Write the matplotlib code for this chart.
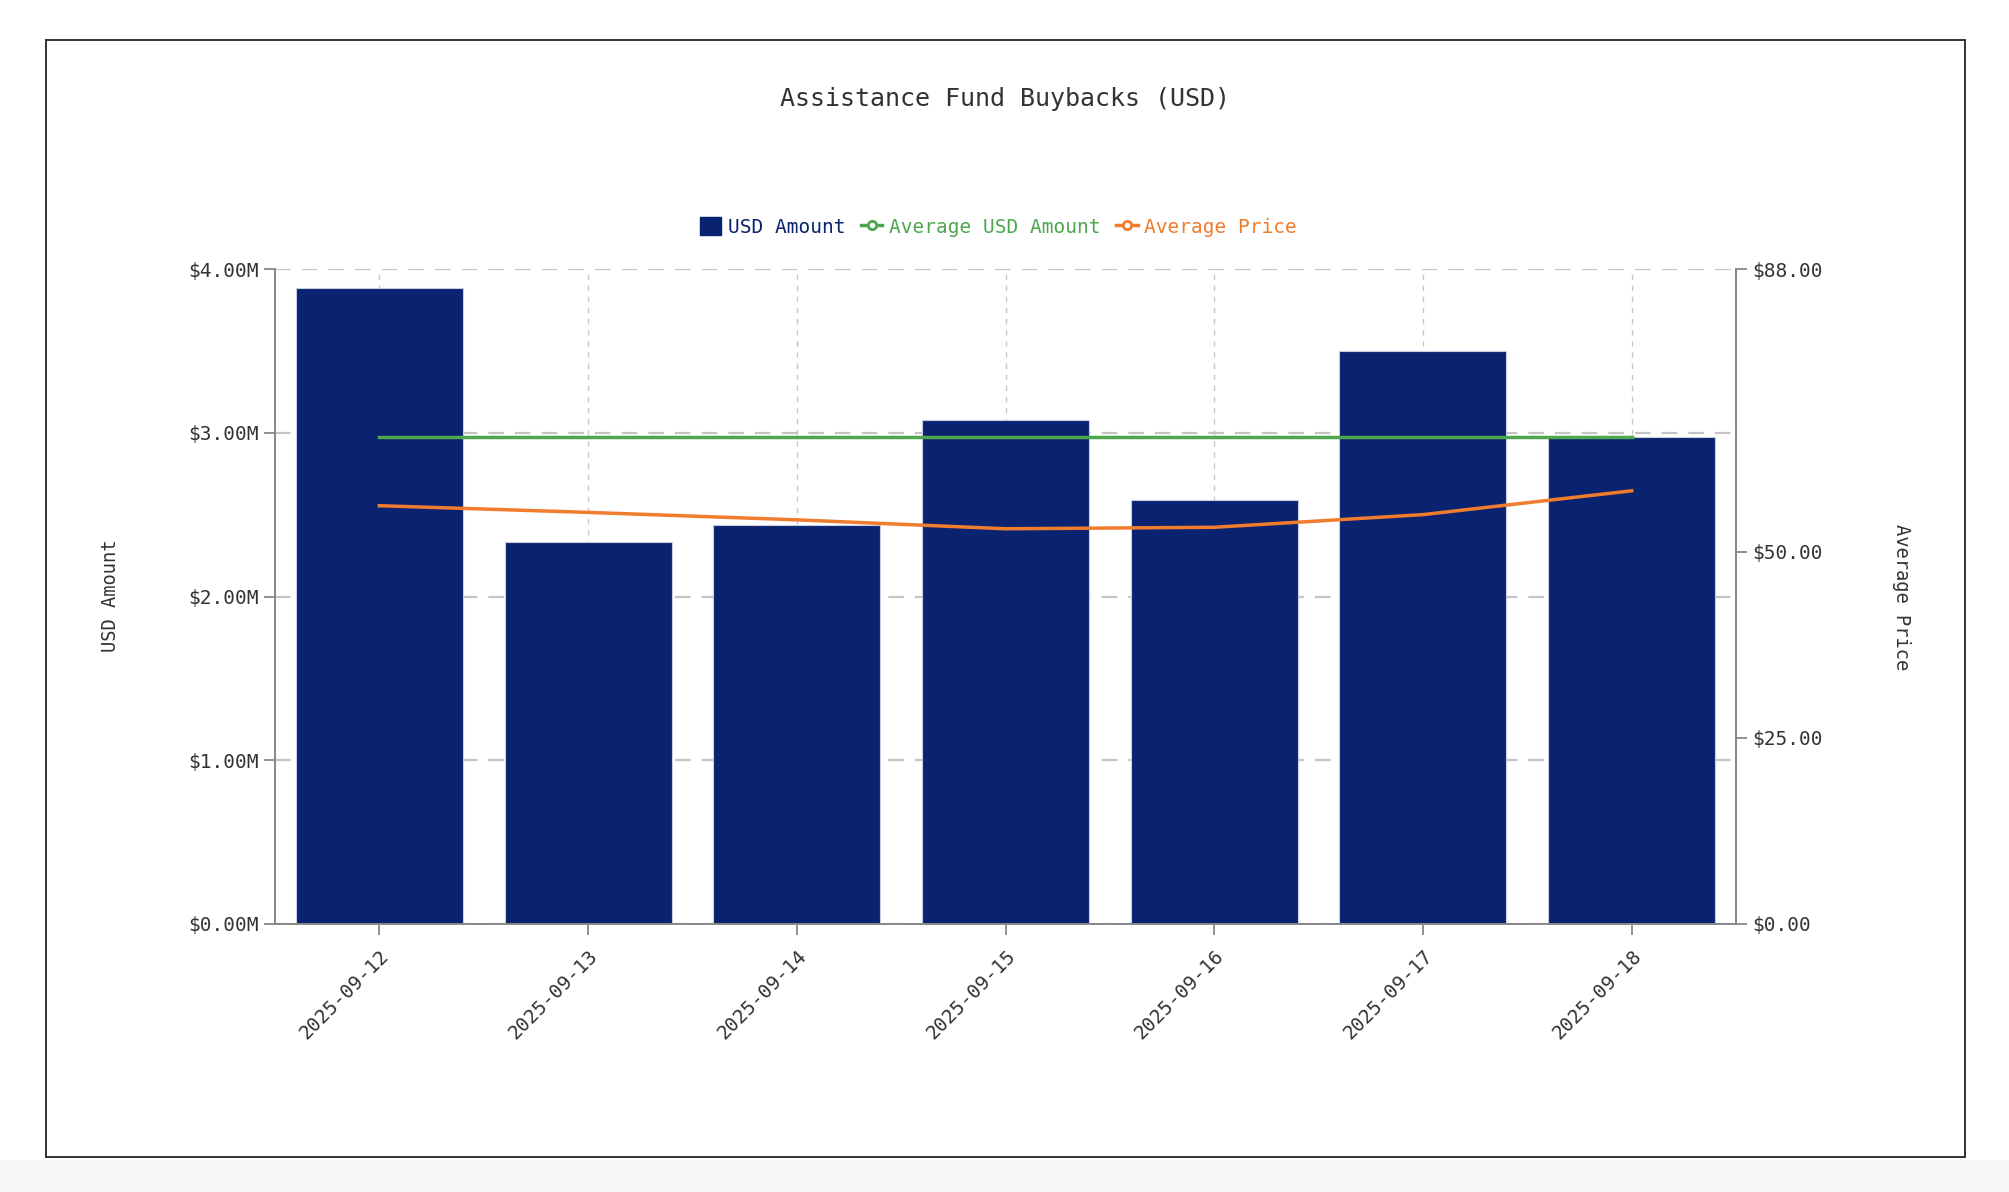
import matplotlib
matplotlib.use("Agg")
import matplotlib.pyplot as plt
from matplotlib.patches import Rectangle, Patch
from matplotlib.lines import Line2D
from matplotlib.ticker import FuncFormatter

plt.rcParams["font.family"] = ["DejaVu Sans Mono", "DejaVu Sans"]

dates = ["2025-09-12", "2025-09-13", "2025-09-14", "2025-09-15",
         "2025-09-16", "2025-09-17", "2025-09-18"]
usd_amount = [3.882e6, 2.335e6, 2.435e6, 3.078e6, 2.589e6, 3.499e6, 2.973e6]
avg_usd_amount = [2.972e6] * len(dates)
avg_price = [56.2, 55.3, 54.3, 53.1, 53.3, 55.0, 58.2]

usd_ticks = [0, 1e6, 2e6, 3e6, 4e6]
price_ticks = [0, 25, 50, 88]

NAVY = "#0a2370"
GREEN = "#4ea64f"
ORANGE = "#f07c2e"
TEXT = "#333333"
AXIS = "#888888"

fig = plt.figure(figsize=(20.09, 11.92), dpi=100)
fig.patch.set_facecolor("white")

# light page band below the card
fig.patches.append(Rectangle((0, 0), 1, 1 - 1160 / 1192, transform=fig.transFigure,
                             facecolor="#f6f6f6", edgecolor="none", zorder=-20))
# card behind the chart
card = Rectangle((46 / 2009, 1 - 1157 / 1192), (1965 - 46) / 2009, (1157 - 40) / 1192,
                 transform=fig.transFigure, facecolor="white", edgecolor="#333333",
                 linewidth=1.4, zorder=-10)
fig.patches.append(card)

ax = fig.add_axes((275 / 2009, 1 - 924 / 1192, (1736 - 275) / 2009, (924 - 269) / 1192))
ax.set_facecolor("none")
ax2 = ax.twinx()

x = list(range(len(dates)))
ax.bar(x, usd_amount, width=0.8, color=NAVY, edgecolor="#c9cde0", linewidth=0.8, zorder=2)
ax.plot(x, avg_usd_amount, color=GREEN, linewidth=2.5, zorder=3)
ax2.plot(x, avg_price, color=ORANGE, linewidth=2.5, zorder=3)

ax.set_xlim(-0.5, 6.5)
ax.set_ylim(0, 4e6)
ax2.set_ylim(0, 88)
ax.set_yticks(usd_ticks)
ax2.set_yticks(price_ticks)
ax.yaxis.set_major_formatter(FuncFormatter(lambda v, _p: f"${v / 1e6:.2f}M"))
ax2.yaxis.set_major_formatter(FuncFormatter(lambda v, _p: f"${v:.2f}"))
ax.set_xticks(x)
ax.set_xticklabels(dates, rotation=45, ha="right", rotation_mode="anchor")

ax.set_axisbelow(True)
ax.yaxis.grid(True, color="#c4c4c4", linewidth=1.6, dashes=(7, 5))
ax.xaxis.grid(True, color="#c8c8c8", linewidth=1.0, dashes=(4, 4))

for a in (ax, ax2):
    a.spines["top"].set_visible(False)
    for side in ("left", "right", "bottom"):
        a.spines[side].set_color(AXIS)
        a.spines[side].set_linewidth(1.3)
    a.tick_params(colors=AXIS, labelcolor=TEXT, labelsize=14, length=8, width=1.3)
ax.tick_params(axis="x", pad=8)
ax.tick_params(axis="y", pad=4)
ax2.tick_params(axis="y", pad=4)

fig.text(110 / 2009, 1 - 596 / 1192, "USD Amount", rotation=90, ha="center", va="center",
         fontsize=13.5, color=TEXT)
fig.text(1901 / 2009, 1 - 597 / 1192, "Average Price", rotation=270, ha="center", va="center",
         fontsize=13.5, color=TEXT)
fig.text(0.5, 1 - 99 / 1192, "Assistance Fund Buybacks (USD)", ha="center", va="center",
         fontsize=18, color=TEXT, fontweight="light")

handles = [
    Patch(facecolor=NAVY, edgecolor=NAVY),
    Line2D([], [], color=GREEN, linewidth=2.5, marker="o", markersize=6,
           markerfacecolor="white", markeredgewidth=2),
    Line2D([], [], color=ORANGE, linewidth=2.5, marker="o", markersize=6,
           markerfacecolor="white", markeredgewidth=2),
]
labels = ["USD Amount", "Average USD Amount", "Average Price"]
leg = fig.legend(handles, labels, loc="center", bbox_to_anchor=(0.497, 1 - 227 / 1192),
                 ncol=3, frameon=False, fontsize=14, handlelength=1.1, handleheight=1.0,
                 handletextpad=0.35, columnspacing=0.8)
for txt, col in zip(leg.get_texts(), [NAVY, GREEN, ORANGE]):
    txt.set_color(col)

fig.savefig("out.png", dpi=100, facecolor=fig.get_facecolor())
